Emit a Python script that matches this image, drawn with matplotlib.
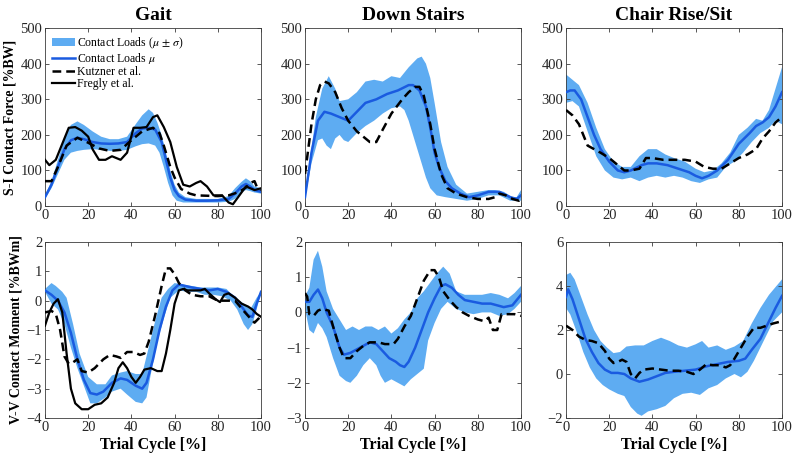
import numpy as np
import matplotlib
matplotlib.use('Agg')
import matplotlib.pyplot as plt
from matplotlib.patches import Patch
from matplotlib.lines import Line2D

plt.rcParams['font.family'] = ['Liberation Serif', 'DejaVu Serif']
plt.rcParams['mathtext.fontset'] = 'stix'

# ---------------- S-I contact force, Gait ----------------
gait_f_mean_x = [0, 3, 6, 9, 12, 15, 18, 22, 26, 30, 34, 38, 42, 45, 48, 51, 54, 56, 58, 60, 62, 65, 70, 75, 80, 85, 88, 91, 93, 95, 97, 100]
gait_f_mean_y = [25, 60, 110, 160, 185, 192, 188, 180, 176, 175, 176, 180, 205, 218, 220, 215, 180, 130, 80, 45, 28, 18, 15, 15, 16, 20, 35, 55, 62, 55, 45, 40]
gait_f_up_x = [0, 3, 6, 9, 12, 15, 18, 22, 26, 30, 34, 38, 42, 45, 48, 50, 52, 54, 56, 58, 60, 62, 65, 70, 80, 85, 88, 91, 93, 95, 97, 100]
gait_f_up_y = [30, 70, 130, 190, 228, 238, 228, 210, 195, 188, 188, 195, 230, 255, 272, 262, 235, 200, 150, 100, 60, 38, 25, 20, 20, 28, 50, 68, 78, 70, 55, 50]
gait_f_lo_x = [0, 3, 6, 9, 12, 15, 18, 22, 26, 30, 34, 38, 42, 45, 48, 51, 53, 55, 57, 59, 61, 64, 70, 80, 85, 88, 91, 93, 95, 97, 100]
gait_f_lo_y = [20, 50, 90, 130, 150, 155, 158, 160, 158, 155, 155, 158, 168, 174, 176, 170, 150, 110, 65, 30, 15, 10, 10, 10, 12, 20, 38, 45, 42, 38, 35]
gait_f_kutz_x = [0, 3, 6, 10, 15, 20, 25, 30, 35, 40, 45, 50, 53, 55, 58, 60, 63, 67, 70, 80, 85, 90, 93, 95, 97, 98, 100]
gait_f_kutz_y = [70, 70, 110, 170, 192, 178, 162, 155, 158, 185, 210, 220, 205, 170, 110, 80, 48, 35, 30, 28, 30, 40, 52, 65, 70, 55, 45]
gait_f_freg_x = [0, 2, 5, 8, 11, 14, 17, 20, 22, 25, 28, 31, 35, 38, 41, 44, 47, 50, 52, 55, 58, 61, 64, 67, 70, 72, 75, 78, 82, 85, 87, 90, 93, 95, 97, 100]
gait_f_freg_y = [130, 115, 130, 175, 220, 222, 212, 195, 160, 130, 130, 140, 130, 150, 220, 220, 222, 250, 255, 222, 180, 110, 60, 55, 65, 70, 55, 30, 30, 10, 5, 30, 55, 50, 45, 50]

# ---------------- S-I contact force, Down Stairs ----------------
down_f_mean_x = [0, 3, 6, 9, 12, 16, 20, 24, 28, 33, 38, 43, 48, 50, 53, 56, 58, 60, 62, 65, 68, 72, 76, 80, 85, 90, 95, 98, 100]
down_f_mean_y = [25, 150, 240, 265, 260, 250, 240, 265, 290, 300, 315, 325, 340, 340, 325, 280, 220, 150, 110, 70, 50, 35, 25, 30, 40, 40, 25, 20, 30]
down_f_up_x = [0, 5, 8, 11, 14, 16, 20, 24, 28, 32, 36, 40, 44, 48, 52, 54, 56, 58, 60, 63, 66, 70, 75, 80, 85, 88, 92, 96, 98, 100]
down_f_up_y = [30, 250, 330, 365, 330, 295, 300, 320, 350, 355, 350, 365, 360, 390, 415, 420, 400, 360, 290, 180, 110, 60, 35, 40, 45, 45, 40, 25, 25, 45]
down_f_lo_x = [0, 3, 6, 8, 10, 12, 14, 16, 18, 20, 24, 28, 32, 36, 40, 44, 46, 48, 50, 53, 56, 58, 61, 65, 70, 75, 80, 85, 90, 95, 100]
down_f_lo_y = [20, 120, 185, 190, 170, 160, 190, 200, 185, 180, 205, 225, 240, 260, 275, 280, 270, 240, 200, 140, 80, 50, 30, 25, 20, 15, 20, 30, 30, 15, 15]
down_f_kutz_x = [0, 3, 5, 7, 9, 11, 14, 17, 20, 24, 27, 30, 33, 36, 40, 45, 48, 51, 53, 55, 58, 60, 63, 66, 70, 75, 80, 85, 88, 90, 93, 96, 99, 100]
down_f_kutz_y = [90, 230, 300, 340, 350, 345, 320, 275, 240, 210, 195, 180, 180, 215, 260, 300, 320, 335, 335, 310, 230, 160, 90, 50, 35, 25, 20, 20, 25, 35, 30, 20, 15, 20]

# ---------------- S-I contact force, Chair Rise/Sit ----------------
chair_f_mean_x = [0, 2, 4, 7, 10, 13, 16, 20, 24, 27, 30, 35, 38, 42, 47, 52, 57, 60, 63, 66, 70, 75, 80, 85, 88, 91, 94, 97, 100]
chair_f_mean_y = [320, 325, 325, 300, 250, 200, 160, 125, 100, 95, 100, 115, 120, 120, 115, 105, 95, 85, 78, 85, 100, 130, 175, 205, 225, 235, 250, 280, 320]
chair_f_up_x = [0, 3, 6, 10, 14, 18, 22, 26, 30, 34, 38, 42, 46, 50, 55, 60, 64, 68, 72, 76, 80, 84, 88, 91, 94, 97, 100]
chair_f_up_y = [370, 355, 340, 290, 220, 160, 125, 110, 110, 140, 160, 160, 145, 135, 125, 105, 95, 100, 120, 150, 200, 220, 245, 240, 270, 330, 390]
chair_f_lo_x = [0, 3, 6, 10, 14, 18, 22, 26, 30, 34, 38, 42, 46, 50, 54, 58, 62, 66, 70, 74, 78, 82, 86, 90, 94, 97, 100]
chair_f_lo_y = [290, 295, 280, 210, 140, 100, 80, 75, 80, 70, 80, 85, 80, 85, 80, 70, 65, 75, 80, 110, 125, 150, 180, 205, 220, 240, 230]
chair_f_kutz_x = [0, 3, 6, 8, 10, 13, 16, 20, 24, 27, 30, 34, 37, 40, 45, 50, 55, 60, 64, 68, 72, 76, 80, 84, 88, 91, 94, 97, 100]
chair_f_kutz_y = [270, 255, 230, 200, 170, 160, 150, 135, 115, 100, 100, 105, 135, 135, 130, 130, 130, 125, 110, 105, 105, 120, 135, 145, 160, 190, 210, 235, 250]

# ---------------- V-V contact moment, Gait ----------------
gait_m_mean_x = [0, 3, 6, 9, 12, 15, 18, 21, 24, 27, 31, 35, 38, 42, 45, 47, 50, 53, 56, 59, 62, 65, 68, 72, 76, 80, 84, 88, 91, 94, 96, 98, 100]
gait_m_mean_y = [0.35, 0.2, 0.0, -0.4, -1.1, -2.0, -2.7, -3.15, -3.2, -3.1, -2.8, -2.65, -2.7, -2.9, -3.0, -2.8, -2.0, -1.0, -0.2, 0.35, 0.55, 0.5, 0.45, 0.4, 0.35, 0.4, 0.3, 0.1, -0.2, -0.5, -0.55, -0.1, 0.3]
gait_m_up_x = [0, 3, 5, 8, 10, 13, 16, 20, 24, 28, 31, 35, 38, 42, 45, 48, 51, 54, 57, 60, 64, 68, 72, 76, 80, 84, 88, 92, 95, 98, 100]
gait_m_up_y = [0.4, 0.6, 0.5, 0.3, 0.1, -0.8, -1.8, -2.6, -2.85, -2.85, -2.55, -2.45, -2.4, -2.5, -2.5, -1.6, -0.7, 0.1, 0.4, 0.6, 0.55, 0.5, 0.45, 0.45, 0.45, 0.4, 0.1, -0.1, -0.3, 0.1, 0.3]
gait_m_lo_x = [0, 3, 6, 9, 12, 15, 18, 21, 24, 28, 31, 35, 38, 42, 45, 47, 49, 52, 55, 58, 62, 66, 70, 74, 78, 82, 86, 89, 92, 94, 96, 98, 100]
gait_m_lo_y = [0.3, -0.1, -0.3, -0.8, -1.6, -2.3, -2.9, -3.5, -3.5, -3.3, -3.1, -3.0, -3.2, -3.45, -3.5, -3.3, -2.5, -1.4, -0.6, 0.1, 0.35, 0.3, 0.3, 0.2, 0.2, 0.15, 0.0, -0.3, -0.8, -1.0, -0.8, -0.3, 0.3]
gait_m_kutz_x = [0, 3, 5, 7, 9, 11, 13, 15, 17, 20, 23, 27, 30, 33, 35, 38, 41, 44, 46, 48, 51, 54, 56, 58, 60, 62, 65, 68, 72, 76, 80, 84, 88, 92, 95, 97, 99, 100]
gait_m_kutz_y = [-0.4, -0.35, -0.45, -1.0, -1.9, -2.15, -2.1, -2.0, -2.4, -2.45, -2.3, -2.0, -1.85, -1.9, -1.95, -1.75, -1.75, -1.85, -1.8, -1.4, -0.5, 0.5, 1.1, 1.1, 0.9, 0.6, 0.35, 0.2, 0.15, 0.15, 0.0, 0.0, 0.0, -0.35, -0.6, -0.75, -0.6, -0.5]
gait_m_freg_x = [0, 2, 4, 6, 8, 10, 12, 14, 17, 20, 23, 26, 29, 32, 34, 36, 38, 40, 42, 44, 46, 49, 52, 54, 56, 58, 60, 62, 64, 66, 70, 72, 74, 76, 79, 81, 83, 85, 88, 91, 94, 96, 98, 100]
gait_m_freg_y = [-0.85, -0.4, -0.1, 0.05, -0.4, -1.8, -3.0, -3.5, -3.7, -3.7, -3.55, -3.5, -3.3, -2.8, -2.3, -2.1, -2.3, -2.6, -2.8, -2.6, -2.35, -2.3, -2.4, -2.4, -1.8, -1.0, -0.1, 0.35, 0.4, 0.35, 0.35, 0.35, 0.4, 0.25, 0.05, -0.05, 0.2, 0.25, 0.1, -0.1, -0.2, -0.3, -0.45, -0.55]

# ---------------- V-V contact moment, Down Stairs ----------------
down_m_mean_x = [0, 2, 4, 6, 8, 10, 13, 16, 18, 21, 24, 27, 30, 33, 36, 39, 42, 44, 46, 48, 51, 54, 57, 60, 63, 65, 68, 71, 74, 78, 82, 86, 89, 92, 96, 100]
down_m_mean_y = [0.3, 0.3, 0.5, 0.65, 0.4, 0.0, -0.4, -1.0, -1.2, -1.15, -1.05, -0.95, -0.85, -0.9, -1.1, -1.3, -1.4, -1.5, -1.55, -1.4, -1.0, -0.5, 0.0, 0.4, 0.75, 0.8, 0.7, 0.5, 0.35, 0.3, 0.25, 0.25, 0.2, 0.15, 0.2, 0.5]
down_m_up_x = [0, 2, 4, 6, 8, 10, 13, 16, 19, 22, 25, 28, 31, 34, 37, 40, 43, 46, 49, 52, 55, 58, 61, 64, 67, 70, 74, 78, 82, 86, 90, 94, 97, 100]
down_m_up_y = [0.45, 0.7, 1.5, 1.75, 1.3, 0.6, 0.1, -0.2, -0.5, -0.4, -0.5, -0.4, -0.4, -0.5, -0.4, -0.6, -0.45, -0.2, 0.0, 0.4, 0.6, 0.85, 1.1, 1.3, 1.1, 0.6, 0.5, 0.5, 0.5, 0.55, 0.5, 0.4, 0.55, 0.75]
down_m_lo_x = [0, 2, 4, 6, 8, 10, 13, 16, 19, 21, 24, 27, 30, 33, 35, 37, 40, 43, 46, 49, 52, 55, 57, 60, 63, 66, 70, 74, 78, 82, 86, 90, 94, 97, 100]
down_m_lo_y = [0.1, -0.5, -0.6, -0.3, -0.45, -0.7, -1.3, -1.8, -1.95, -2.0, -1.8, -1.5, -1.3, -1.5, -1.8, -2.0, -1.9, -2.0, -2.1, -1.9, -1.75, -1.6, -0.8, -0.3, 0.1, 0.3, 0.1, 0.0, -0.05, 0.0, 0.0, -0.1, -0.05, 0.1, 0.3]
down_m_kutz_x = [0, 1, 2, 4, 6, 8, 11, 13, 16, 18, 21, 24, 27, 30, 34, 37, 41, 43, 46, 49, 52, 55, 58, 60, 62, 64, 67, 70, 73, 76, 80, 83, 85, 87, 89, 91, 94, 97, 100]
down_m_kutz_y = [0.55, 0.45, -0.05, -0.1, 0.05, 0.1, 0.05, -0.4, -1.0, -1.3, -1.3, -1.1, -0.95, -0.85, -0.85, -0.9, -0.9, -0.75, -0.4, -0.1, 0.4, 0.9, 1.2, 1.2, 1.0, 0.6, 0.35, 0.15, 0.0, -0.1, -0.2, -0.25, -0.15, -0.5, -0.5, -0.05, -0.05, -0.05, -0.1]

# ---------------- V-V contact moment, Chair Rise/Sit ----------------
chair_m_mean_x = [0, 1, 3, 6, 9, 12, 15, 18, 21, 24, 27, 30, 34, 38, 42, 46, 50, 55, 60, 65, 70, 75, 80, 83, 86, 90, 94, 97, 100]
chair_m_mean_y = [3.5, 3.85, 3.4, 2.5, 1.6, 1.0, 0.5, 0.2, 0.05, 0.05, 0.0, -0.2, -0.35, -0.25, -0.1, 0.05, 0.1, 0.15, 0.2, 0.35, 0.45, 0.55, 0.6, 0.7, 1.1, 1.6, 2.4, 3.0, 3.55]
chair_m_up_x = [0, 2, 4, 7, 10, 13, 16, 19, 22, 25, 28, 32, 36, 40, 44, 48, 52, 56, 60, 63, 66, 70, 74, 78, 82, 86, 90, 94, 97, 100]
chair_m_up_y = [4.5, 4.6, 4.3, 3.5, 2.7, 2.0, 1.5, 1.2, 0.95, 1.0, 1.25, 1.3, 1.3, 1.5, 1.65, 1.5, 1.3, 1.2, 1.35, 1.5, 1.2, 1.3, 1.1, 1.25, 1.5, 2.3, 3.0, 3.6, 3.95, 4.3]
chair_m_lo_x = [0, 2, 5, 8, 11, 14, 17, 20, 24, 27, 30, 33, 35, 38, 42, 46, 50, 54, 58, 62, 66, 70, 74, 78, 81, 84, 87, 90, 93, 96, 100]
chair_m_lo_y = [3.0, 2.7, 1.9, 1.0, 0.3, -0.2, -0.5, -0.7, -0.9, -1.0, -1.5, -1.8, -1.9, -1.7, -1.6, -1.45, -1.1, -0.9, -0.85, -0.95, -0.65, -0.5, -0.2, 0.0, -0.15, 0.1, 0.6, 1.2, 1.8, 2.4, 2.8]
chair_m_kutz_x = [0, 3, 6, 9, 12, 15, 18, 20, 22, 24, 26, 28, 30, 32, 34, 36, 40, 44, 48, 52, 56, 59, 62, 65, 68, 71, 74, 76, 78, 81, 84, 87, 90, 93, 96, 98, 100]
chair_m_kutz_y = [2.2, 2.0, 1.7, 1.55, 1.5, 1.4, 1.05, 0.7, 0.5, 0.55, 0.65, 0.55, 0.0, -0.2, 0.05, 0.2, 0.25, 0.2, 0.15, 0.15, 0.1, 0.0, 0.2, 0.45, 0.4, 0.4, 0.3, 0.4, 0.7, 1.2, 1.7, 2.1, 2.1, 2.2, 2.3, 2.35, 2.4]

titles = ['Gait', 'Down Stairs', 'Chair Rise/Sit']
force_ticks = [0, 100, 200, 300, 400, 500]
moment_ticks = [[-4, -3, -2, -1, 0, 1, 2], [-3, -2, -1, 0, 1, 2], [-2, 0, 2, 4, 6]]

band_col = '#5eacf2'
mean_col = '#1a5be0'
axis_col = '#3c3c3c'
dash = (0, (3.5, 2))

fig = plt.figure(figsize=(8, 4.62), dpi=100)
lefts = [0.05625, 0.38125, 0.7075]
w = 0.27

def draw(ax, mx, my, ux, uy, lx, ly, kx, ky, fx=None, fy=None):
    ax.fill(np.concatenate([ux, lx[::-1]]), np.concatenate([uy, ly[::-1]]),
            color=band_col, lw=0, zorder=1)
    ax.plot(mx, my, color=mean_col, lw=1.8, zorder=3)
    ax.plot(kx, ky, color='black', lw=1.8, ls=dash, zorder=4)
    if fx is not None:
        ax.plot(fx, fy, color='black', lw=1.6, zorder=5)

def style(ax):
    ax.set_xlim(0, 100)
    ax.set_xticks([0, 20, 40, 60, 80, 100])
    ax.tick_params(direction='in', top=True, right=True, length=3,
                   labelsize=10.5, colors=axis_col, labelcolor='#262626', width=0.6, pad=2)
    for s in ax.spines.values():
        s.set_color(axis_col)
        s.set_linewidth(0.6)

force_data = [
    (gait_f_mean_x, gait_f_mean_y, gait_f_up_x, gait_f_up_y, gait_f_lo_x, gait_f_lo_y, gait_f_kutz_x, gait_f_kutz_y, gait_f_freg_x, gait_f_freg_y),
    (down_f_mean_x, down_f_mean_y, down_f_up_x, down_f_up_y, down_f_lo_x, down_f_lo_y, down_f_kutz_x, down_f_kutz_y),
    (chair_f_mean_x, chair_f_mean_y, chair_f_up_x, chair_f_up_y, chair_f_lo_x, chair_f_lo_y, chair_f_kutz_x, chair_f_kutz_y),
]
moment_data = [
    (gait_m_mean_x, gait_m_mean_y, gait_m_up_x, gait_m_up_y, gait_m_lo_x, gait_m_lo_y, gait_m_kutz_x, gait_m_kutz_y, gait_m_freg_x, gait_m_freg_y),
    (down_m_mean_x, down_m_mean_y, down_m_up_x, down_m_up_y, down_m_lo_x, down_m_lo_y, down_m_kutz_x, down_m_kutz_y),
    (chair_m_mean_x, chair_m_mean_y, chair_m_up_x, chair_m_up_y, chair_m_lo_x, chair_m_lo_y, chair_m_kutz_x, chair_m_kutz_y),
]

for i in range(3):
    # top row: force
    ax = fig.add_axes([lefts[i], 0.554, w, 0.385])
    d = [np.array(v) for v in force_data[i]]
    draw(ax, *d)
    style(ax)
    ax.set_ylim(0, 500)
    ax.set_yticks(force_ticks)
    ax.set_title(titles[i], fontsize=14, fontweight='bold', pad=6)
    if i == 0:
        ax.set_ylabel('S-I Contact Force [%BW]', fontsize=10, fontweight='bold', labelpad=3)
        handles = [Patch(facecolor=band_col, edgecolor='none'),
                   Line2D([], [], color=mean_col, lw=1.8),
                   Line2D([], [], color='black', lw=1.8, ls=dash),
                   Line2D([], [], color='black', lw=1.6)]
        labels = [r'Contact Loads ($\mu$ $\pm$ $\sigma$)', r'Contact Loads $\mu$',
                  'Kutzner et al.', 'Fregly et al.']
        ax.legend(handles, labels, loc='upper left', frameon=False, fontsize=8.5,
                  handlelength=1.9, handleheight=0.7, labelspacing=0.02,
                  borderaxespad=0.3, borderpad=0.3, handletextpad=0.2)

    # bottom row: moment
    ax = fig.add_axes([lefts[i], 0.0952, w, 0.381])
    d = [np.array(v) for v in moment_data[i]]
    draw(ax, *d)
    style(ax)
    ax.set_ylim(moment_ticks[i][0], moment_ticks[i][-1])
    ax.set_yticks(moment_ticks[i])
    ax.set_xlabel('Trial Cycle [%]', fontsize=11.5, fontweight='bold', labelpad=2)
    if i == 0:
        ax.set_ylabel('V-V Contact Moment [%BWm]', fontsize=10, fontweight='bold', labelpad=3)

plt.savefig('out.png', dpi=100)
